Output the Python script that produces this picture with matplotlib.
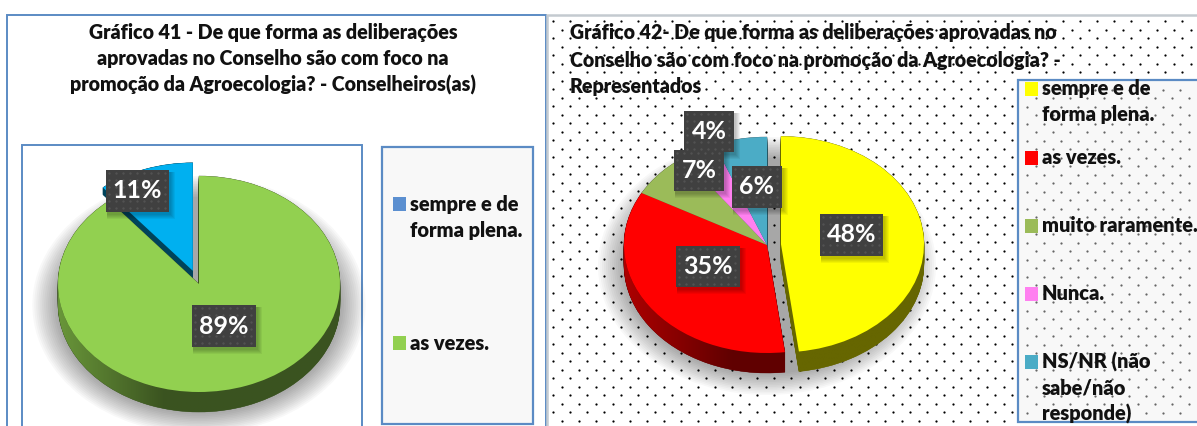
import numpy as np
import matplotlib
matplotlib.use('Agg')
import matplotlib.pyplot as plt
from matplotlib.patches import Rectangle, Wedge, Ellipse, Polygon

W, H = 1197, 426

# dados
legend_left = ['sempre e de\nforma plena.', 'as vezes.']
values_left = [11, 89]
colors_left = ['#00B0F0', '#92D050']
legend_colors_left = ['#5B8FD0', '#92D050']

legend_right = ['sempre e de\nforma plena.', 'as vezes.', 'muito raramente.', 'Nunca.',
                'NS/NR (não\nsabe/não\nresponde)']
values_right = [48, 35, 7, 4, 6]
colors_right = ['#FFFF00', '#FF0000', '#9BBB59', '#FF80F0', '#4BACC6']

title_left = ['Gráfico 41 - De que forma as deliberações',
              'aprovadas no Conselho são com foco na',
              'promoção da Agroecologia? - Conselheiros(as)']
title_right = ['Gráfico 42- De que forma as deliberações aprovadas no',
               'Conselho são com foco na promoção da Agroecologia? -',
               'Representados']

BLUE = '#5B8BC4'
plt.rcParams['font.family'] = ['Lato', 'DejaVu Sans']
plt.rcParams['font.weight'] = 'heavy'

fig = plt.figure(figsize=(W / 100, H / 100), dpi=100, facecolor='white')


def pixel_axes(zorder):
    ax = fig.add_axes([0, 0, 1, 1], zorder=zorder)
    ax.set_xlim(0, W)
    ax.set_ylim(H, 0)
    ax.axis('off')
    ax.patch.set_alpha(0)
    return ax


bg = pixel_axes(0)
top = pixel_axes(2)

# painel esquerdo
bg.add_patch(Rectangle((7, 15), 539, 430, fc='white', ec=BLUE, lw=1.4))
bg.add_patch(Rectangle((22, 145), 340, 300, fc='white', ec=BLUE, lw=1.4))
bg.add_patch(Rectangle((382, 147), 151, 277, fc='#F8F8F8', ec=BLUE, lw=1.6))

# painel direito com pontilhado
bg.add_patch(Rectangle((547, 15), 660, 430, fc='white', ec='#C4CAD0', lw=1.8))
for row, y in enumerate(np.arange(21, H, 8.5)):
    xs = np.arange(553 + (row % 2) * 8.5, W, 17)
    bg.scatter(xs, np.full_like(xs, y), s=2.6, c='black', lw=0, zorder=1)
bg.add_patch(Rectangle((1018, 80), 200, 342, fc='#F8F8F8', ec=BLUE, lw=1.6, alpha=1, zorder=2))
for row, y in enumerate(np.arange(89.5, 420, 8.5)):
    xs = np.arange(1027 + (row % 2) * 8.5, W, 17)
    bg.scatter(xs, np.full_like(xs, y), s=2.6, c='#666666', lw=0, zorder=3)


def draw_pie(values, colors, explode, startangle, cx, cy, rx, ry, depth, shades, walls):
    span = 1.5
    ax = fig.add_axes([(cx - span * rx) / W, 1 - (cy + span * ry) / H,
                       2 * span * rx / W, 2 * span * ry / H], zorder=1)
    wedges, _ = ax.pie(values, colors=colors, explode=explode, startangle=startangle,
                       counterclock=False, radius=1, wedgeprops={'lw': 0, 'zorder': 3})
    ax.set_aspect('auto')
    dy = depth / ry

    # sombra
    for k in range(14):
        ax.add_patch(Ellipse((0, -dy * 1.05), 2 + 0.028 * k, 2 + 0.03 * k, fc='black', ec='none',
                             alpha=0.026, zorder=0.1, clip_on=False))

    for wedge, shade, wall in zip(wedges, shades, walls):
        rgb = np.array(matplotlib.colors.to_rgb(wedge.get_facecolor()))
        dark = rgb * shade[1]
        cxw, cyw = wedge.center
        for d in np.linspace(dy * wall, 0, 24):
            ax.add_patch(Wedge((cxw, cyw - d), 1, wedge.theta1, wedge.theta2, fc=dark, ec=dark,
                               lw=0.3, zorder=1))
        # parede curva com gradiente
        t = np.radians(np.linspace(wedge.theta1, wedge.theta2, 300))
        t = t[np.sin(t) < 0]
        if len(t) == 0:
            continue
        px = cxw + np.cos(t)
        py = cyw + np.sin(t)
        poly = Polygon(np.column_stack([np.r_[px, px[::-1]], np.r_[py, py[::-1] - dy]]),
                       transform=ax.transData, fc='none', ec='none')
        ax.add_patch(poly)
        g = np.linspace(-1.2, 1.2, 200)
        f = np.interp(g, [-1, -0.25, 1], shade)
        img = ax.imshow((rgb[None, None, :] * f[None, :, None]), extent=(-1.2, 1.2, -1.5, 0.5),
                        aspect='auto', zorder=2, interpolation='bilinear')
        img.set_clip_path(poly)
    ax.set_xlim(-span, span)
    ax.set_ylim(-span, span)
    ax.patch.set_alpha(0)
    return ax


draw_pie(values_left, colors_left, [0.13, 0], 90 + values_left[0] * 3.6, 199, 284, 141, 108, 20,
         [(0.38, 0.38, 0.38), (0.72, 0.4, 0.4)], [0.35, 1])
draw_pie(values_right, colors_right, [0.098, 0, 0, 0, 0], 90, 767, 245, 143, 108, 20,
         [(0.4, 0.4, 0.4), (0.68, 0.38, 0.38), (0.5, 0.5, 0.5), (0.5, 0.5, 0.5), (0.5, 0.5, 0.5)],
         [1, 1, 1, 1, 1])


def label_box(text, x0, x1, y0, y1):
    for k in range(1, 6):
        top.add_patch(Rectangle((x0 + 1, y0 + 2), x1 - x0 + k, y1 - y0 + k, fc='black', ec='none',
                                alpha=0.05, zorder=3))
    top.add_patch(Rectangle((x0, y0), x1 - x0, y1 - y0, fc='#404040', ec='none', zorder=4))
    xx, yy = np.meshgrid(np.arange(x0 + 3, x1 - 1, 7.0), np.arange(y0 + 3, y1 - 1, 7.0))
    top.scatter(xx.ravel(), yy.ravel(), s=3, c='#525252', lw=0, zorder=5)
    top.text((x0 + x1) / 2, (y0 + y1) / 2, text, color='white', fontsize=18, fontweight='bold',
             ha='center', va='center', zorder=6)


label_box(f'{values_left[0]}%', 106, 169, 170, 212)
label_box(f'{values_left[1]}%', 192, 256, 305, 347)
label_box(f'{values_right[0]}%', 820, 883, 214, 256)
label_box(f'{values_right[1]}%', 676, 740, 246, 287)
label_box(f'{values_right[3]}%', 684, 734, 111, 152)
label_box(f'{values_right[2]}%', 674, 724, 150, 191)
label_box(f'{values_right[4]}%', 732, 782, 166, 208)

# títulos
for y, line in zip([33, 59, 85], title_left):
    top.text(273, y, line, fontsize=14.15, ha='center', va='center', color='#111111', zorder=6)
for y, line in zip([33, 60, 86], title_right):
    top.text(570, y, line, fontsize=14.1, ha='left', va='center', color='#111111', zorder=6)


# legendas
def legend_block(labels, colors, x_mark, x_text, ys):
    for label, color, y in zip(labels, colors, ys):
        top.add_patch(Rectangle((x_mark, y - 7), 13, 14, fc=color, ec='none', zorder=5))
        for i, part in enumerate(label.split('\n')):
            top.text(x_text, y + i * 26, part, fontsize=14.4, ha='left', va='center', color='#111111',
                     zorder=6, clip_on=False)


legend_block(legend_left, legend_colors_left, 393, 410, [204, 343])
legend_block(legend_right, colors_right, 1025, 1042, [89, 158, 226, 294, 362])

fig.savefig('out.png', dpi=100)
